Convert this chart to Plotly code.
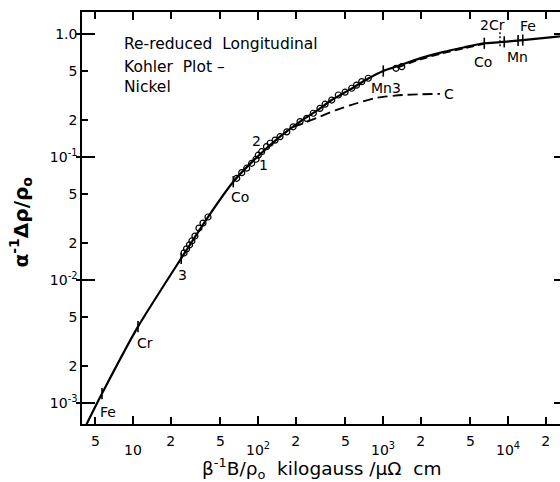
import numpy as np
import plotly.graph_objects as go

# Reduced field  beta^-1 B / rho_0  (kilogauss / micro-ohm cm) and
# reduced magnetoresistance  alpha^-1 delta-rho / rho_0

# Kohler curve (solid line)
curve_b = [4.2, 5.65, 10.96, 24.3, 39.8, 63.4, 100, 150, 217, 300, 389, 550,
           762, 1005, 1400, 2000, 3000, 4500, 6460, 8630, 13100, 26000]
curve_r = [6.6e-4, 1.2e-3, 4.2e-3, 0.0151, 0.0327, 0.0633, 0.102, 0.147, 0.195,
           0.242, 0.292, 0.358, 0.437, 0.503, 0.565, 0.64, 0.715, 0.784, 0.845,
           0.862, 0.897, 0.96]

# Measured points (open circles)
pts_b = [25.6, 26.8, 28.3, 29.6, 31.3, 33.7, 36.3, 39.8,
         67.6, 74.1, 81.2, 89.0, 96.4, 100.5, 107, 117, 125, 137, 150, 170,
         191, 217, 245, 277, 313, 344, 389, 439, 497, 562, 614, 676, 762,
         1271, 1413]
pts_r = [0.0167, 0.0180, 0.0194, 0.0209, 0.0229, 0.0266, 0.0292, 0.0327,
         0.0675, 0.0750, 0.0815, 0.0894, 0.0964, 0.104, 0.111, 0.122, 0.130,
         0.138, 0.147, 0.161, 0.177, 0.195, 0.207, 0.228, 0.250, 0.270, 0.292,
         0.321, 0.338, 0.364, 0.386, 0.412, 0.439, 0.529, 0.545]

# Sample C (dashed branch)
c_b = [190, 230, 313, 426, 617, 890, 1450, 2000, 2860]
c_r = [0.176, 0.189, 0.214, 0.243, 0.275, 0.305, 0.321, 0.325, 0.328]

# Dashed branch running just under the solid curve at high field
d_b = [1300, 2000, 3000, 4500, 6460]
d_r = [0.535, 0.625, 0.700, 0.770, 0.835]

# Sample marks on the curve
mark_b = [5.65, 10.96, 24.3, 63.4, 1005, 6460, 9330, 12040, 13120]
mark_r = [1.2e-3, 4.2e-3, 0.0151, 0.0633, 0.503, 0.845, 0.868, 0.89, 0.897]

# Dotted marker for sample 2Cr
cr2_b = [8630, 8630]
cr2_r = [0.80, 1.05]

# Sample labels: text, field, resistance
lab_text = ["Fe", "Cr", "3", "Co", "2", "1", "Mn3", "Co", "2Cr", "Mn", "Fe", "C"]
lab_b = [6.31, 12.36, 24.8, 71.8, 96.4, 110.7, 1057, 6310, 7450, 11900, 14450, 3373]
lab_r = [8.55e-4, 3.09e-3, 0.01104, 0.0478, 0.1357, 0.0871, 0.366, 0.599, 1.19,
         0.654, 1.168, 0.330]

# Axis ticks
x_tickvals = [5, 20, 50, 200, 500, 2000, 5000, 20000]
x_ticktext = ["5", "2", "5", "2", "5", "2", "5", "2"]
x_decades = [10, 100, 1000, 10000]
x_decade_text = ["10", "10<sup>2</sup>", "10<sup>3</sup>", "10<sup>4</sup>"]
y_tickvals = [1.0, 0.5, 0.2, 0.1, 0.05, 0.02, 0.01, 0.005, 0.002, 0.001]
y_ticktext = ["1.0", "5", "2", "10<sup>-1</sup>", "5", "2", "10<sup>-2</sup>",
              "5", "2", "10<sup>-3</sup>"]
y_decades = [1.0, 0.1, 0.01, 0.001]

FONT = "DejaVu Sans"
X_RANGE = [0.592, 4.416]
Y_RANGE = [-3.168, 0.181]

fig = go.Figure()

fig.add_trace(go.Scatter(x=curve_b, y=curve_r, mode="lines",
                         line=dict(color="black", width=2.2, shape="spline", smoothing=0.6),
                         hoverinfo="skip"))
fig.add_trace(go.Scatter(x=pts_b, y=pts_r, mode="markers",
                         marker=dict(symbol="circle-open", size=6, color="black",
                                     line=dict(width=1.2, color="black")),
                         hoverinfo="skip"))
fig.add_trace(go.Scatter(x=mark_b, y=mark_r, mode="markers",
                         marker=dict(symbol="line-ns-open", size=8, color="black",
                                     line=dict(width=1.6, color="black")),
                         hoverinfo="skip"))
fig.add_trace(go.Scatter(x=c_b, y=c_r, mode="lines", yaxis="y3",
                         line=dict(color="black", width=1.8, dash="10px,5px",
                                   shape="spline", smoothing=0.6),
                         hoverinfo="skip"))
fig.add_trace(go.Scatter(x=d_b, y=d_r, mode="lines", yaxis="y2",
                         line=dict(color="black", width=1.6, dash="8px,4px",
                                   shape="spline", smoothing=0.6),
                         hoverinfo="skip"))
fig.add_trace(go.Scatter(x=cr2_b, y=cr2_r, mode="lines", xaxis="x2", yaxis="y4",
                         line=dict(color="black", width=1.4, dash="2px,2px"),
                         hoverinfo="skip"))

tickfont = dict(family=FONT, size=14, color="black")

fig.update_layout(
    width=560, height=482,
    margin=dict(l=82, r=0, t=12, b=58),
    paper_bgcolor="white", plot_bgcolor="white",
    showlegend=False,
    font=dict(family=FONT, color="black"),
    xaxis=dict(type="log", range=X_RANGE, tickmode="array",
               tickvals=x_tickvals, ticktext=x_ticktext,
               ticks="inside", ticklen=7, tickwidth=1.5, tickcolor="black",
               showline=True, linewidth=1.5, linecolor="black", mirror="ticks",
               showgrid=False, zeroline=False, tickfont=tickfont,
               ticklabelstandoff=3),
    xaxis2=dict(type="log", range=X_RANGE, overlaying="x", anchor="y", side="bottom",
                tickmode="array", tickvals=x_decades, ticktext=x_decade_text,
                ticks="inside", ticklen=8, tickwidth=1.5, tickcolor="black",
                showline=True, linewidth=1.5, linecolor="black", mirror="ticks",
                showgrid=False, zeroline=False,
                tickfont=tickfont, ticklabelstandoff=12),
    yaxis=dict(type="log", range=Y_RANGE, tickmode="array",
               tickvals=y_tickvals, ticktext=y_ticktext,
               ticks="inside", ticklen=6, tickwidth=1.5, tickcolor="black",
               showline=True, linewidth=1.5, linecolor="black",
               showgrid=False, zeroline=False, tickfont=tickfont,
               ticklabelstandoff=0),
    yaxis2=dict(type="log", range=Y_RANGE, overlaying="y", anchor="x", side="right",
                tickmode="array", tickvals=y_decades, ticks="inside", ticklen=6,
                tickwidth=1.5, tickcolor="black", showticklabels=False,
                showline=False, showgrid=False, zeroline=False),
    yaxis3=dict(type="log", range=Y_RANGE, overlaying="y", anchor="x", side="left",
                tickmode="array", tickvals=y_decades, ticks="inside", ticklen=13,
                tickwidth=1.5, tickcolor="black", showticklabels=False,
                showline=False, showgrid=False, zeroline=False),
    yaxis4=dict(type="log", range=Y_RANGE, overlaying="y", anchor="x", side="left",
                tickmode="array", tickvals=y_decades, ticks="outside", ticklen=5,
                tickwidth=1.5, tickcolor="black", showticklabels=False,
                showline=False, showgrid=False, zeroline=False),
)

# Sample labels next to their marks
for t, b, r in zip(lab_text, lab_b, lab_r):
    fig.add_annotation(x=np.log10(b), y=np.log10(r), xref="x", yref="y", text=t,
                       showarrow=False, font=dict(family=FONT, size=14, color="black"),
                       xanchor="center", yanchor="middle")

# Title block
title_lines = ["Re-reduced\u00a0\u00a0Longitudinal", "Kohler\u00a0\u00a0Plot\u00a0\u2013", "Nickel"]
title_y = [0.922, 0.867, 0.819]
for t, yy in zip(title_lines, title_y):
    fig.add_annotation(x=0.0837, y=yy, xref="paper", yref="paper", text=t,
                       showarrow=False, xanchor="left", yanchor="middle",
                       font=dict(family=FONT, size=15.5, color="black"))

# Axis titles
fig.add_annotation(x=0.501, y=-0.108, xref="paper", yref="paper",
                   text="\u03b2<sup>-1</sup>B/\u03c1<sub>o</sub>\u00a0\u00a0kilogauss\u00a0/\u03bc\u03a9\u00a0\u00a0cm",
                   showarrow=False, xanchor="center", yanchor="middle",
                   font=dict(family=FONT, size=18.5, color="black"))
fig.add_annotation(x=-0.129, y=0.49, xref="paper", yref="paper",
                   text="<b>\u03b1<sup>-1</sup>\u0394\u03c1/\u03c1<sub>o</sub></b>",
                   showarrow=False, textangle=-90, xanchor="center", yanchor="middle",
                   font=dict(family=FONT, size=20, color="black"))

fig.write_html("out.html")
